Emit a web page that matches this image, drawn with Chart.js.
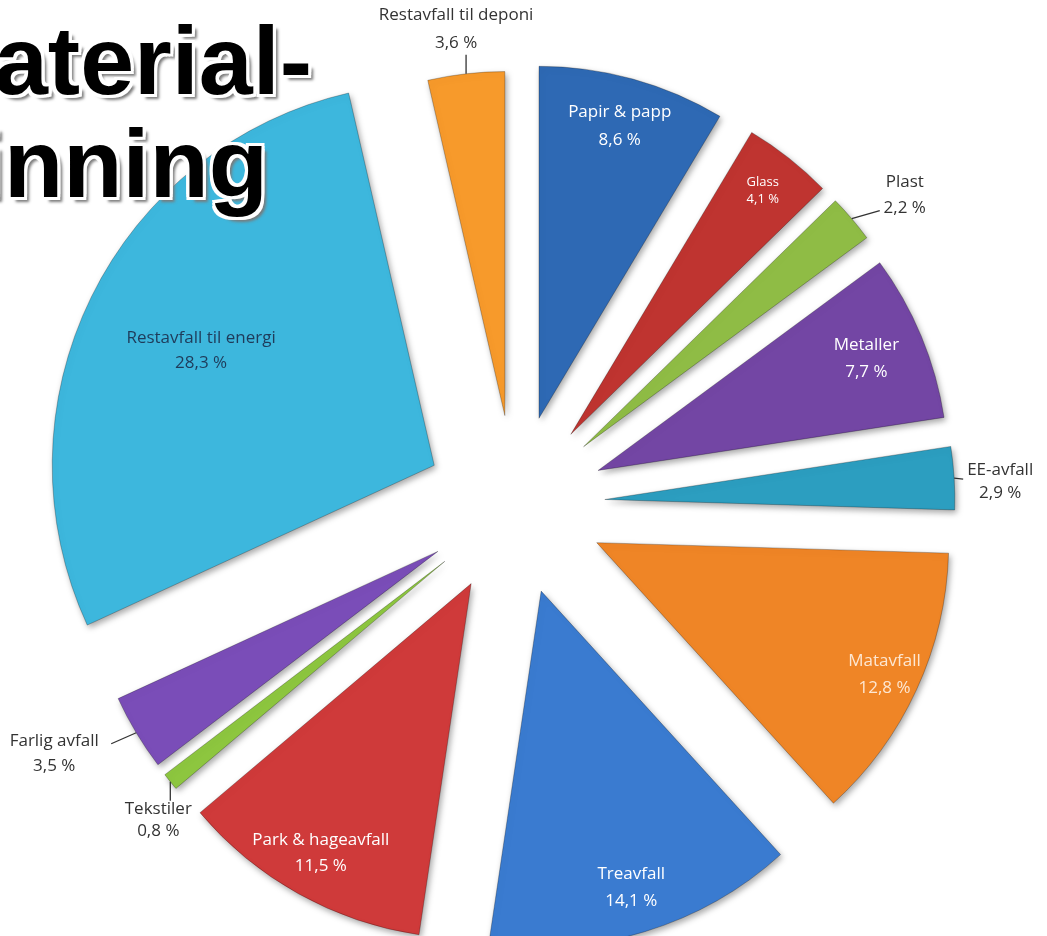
<!DOCTYPE html>
<html>
<head>
<meta charset="utf-8">
<script src="https://cdn.jsdelivr.net/npm/chart.js@4.4.0/dist/chart.umd.min.js"></script>
<style>
    html, body { margin: 0; padding: 0; background: #fff; overflow: hidden; }
    #wrap { position: relative; width: 1047px; height: 936px; overflow: hidden; }
    #wasteChart { position: absolute; left: 0; top: 0; }
    .title {
        position: absolute;
        font-family: "Liberation Sans", Arial, sans-serif;
        font-weight: bold;
        font-size: 97px;
        line-height: 97px;
        white-space: nowrap;
        color: #000;
        text-shadow: -3px -3px 0 #fff, 3px -3px 0 #fff, -3px 3px 0 #fff, 3px 3px 0 #fff,
            0 -3px 0 #fff, 0 3px 0 #fff, -3px 0 0 #fff, 3px 0 0 #fff, 5px 5px 3px #7a7a7a;
    }
</style>
</head>
<body>
<div id="wrap">
    <canvas id="wasteChart" width="1047" height="936"></canvas>
    <div class="title" style="right:735px; top:12px;">Material-</div>
    <div class="title" style="right:779px; top:115px;">gjenvinning</div>
</div>
<script>
const labels = ['Papir & papp', 'Glass', 'Plast', 'Metaller', 'EE-avfall', 'Matavfall', 'Treavfall',
    'Park & hageavfall', 'Tekstiler', 'Farlig avfall', 'Restavfall til energi', 'Restavfall til deponi'];
const shares = [8.6, 4.1, 2.2, 7.7, 2.9, 12.8, 14.1, 11.5, 0.8, 3.5, 28.3, 3.6];

const sliceColors = ['#2E69B4', '#BF3430', '#8FBC45', '#7346A4', '#2C9EC0', '#EF8526', '#3A7BD0',
    '#CF3A3A', '#8DC63F', '#7A4DB8', '#3DB7DD', '#F79A2B'];

// every slice is pulled out this far from the middle
const EXPLODE = 90;
const sliceRadius = [352, 352, 352, 350, 350, 352, 356, 355, 352, 352, 382, 344];

const LABEL_FONT = '"Open Sans", Lato, sans-serif';

// labels drawn on the slice: share of the radius, font size, colour, line gap
const insideLabels = {
    'Papir & papp': { at: 0.86, size: 17, color: '#ffffff', gap: 28 },
    'Glass': { at: 0.88, size: 13, color: '#ffffff', gap: 17 },
    'Metaller': { at: 0.83, size: 17, color: '#ffffff', gap: 27 },
    'Matavfall': { at: 0.90, size: 17, color: '#fde7d2', gap: 27 },
    'Treavfall': { at: 0.87, size: 17, color: '#ffffff', gap: 27 },
    'Park & hageavfall': { at: 0.87, size: 17, color: '#ffffff', gap: 26 },
    'Restavfall til energi': { at: 0.68, size: 17, color: '#1f3b5a', gap: 25 }
};
// labels outside the rim: leader end and text centre, relative to the rim point
const outsideLabels = {
    'Restavfall til deponi': { line: [0, -19], text: [-10, -45], gap: 28 },
    'Plast': { line: [28, -8], text: [53, -24], gap: 26 },
    'EE-avfall': { line: [9, 1], text: [46, 4], gap: 23 },
    'Tekstiler': { line: [0, 19], text: [-12, 38], gap: 22 },
    'Farlig avfall': { line: [-25, 11], text: [-82, 21], gap: 25 }
};

function pctText(v) {
    return v.toFixed(1).replace('.', ',') + ' %';
}

const explode = {
    id: 'explode',
    afterDatasetUpdate(chart, args) {
        args.meta.data.forEach((arc, i) => {
            const mid = (arc.startAngle + arc.endAngle) / 2;
            arc.x += Math.cos(mid) * EXPLODE;
            arc.y += Math.sin(mid) * EXPLODE;
            arc.outerRadius = sliceRadius[i];
        });
    }
};

const sliceShadow = {
    id: 'sliceShadow',
    beforeDatasetsDraw(chart) {
        const c = chart.ctx;
        c.save();
        c.shadowColor = 'rgba(0,0,0,0.35)';
        c.shadowBlur = 6;
        c.shadowOffsetX = 2;
        c.shadowOffsetY = 3;
    },
    afterDatasetsDraw(chart) {
        chart.ctx.restore();
    }
};

const sliceLabels = {
    id: 'sliceLabels',
    afterDatasetsDraw(chart) {
        const c = chart.ctx;
        const meta = chart.getDatasetMeta(0);
        c.save();
        c.textAlign = 'center';
        c.textBaseline = 'middle';
        meta.data.forEach((arc, i) => {
            const name = labels[i];
            const pct = pctText(shares[i]);
            const mid = (arc.startAngle + arc.endAngle) / 2;
            const dx = Math.cos(mid), dy = Math.sin(mid);
            const inside = insideLabels[name];
            if (inside) {
                const r = arc.outerRadius * inside.at;
                const x = arc.x + dx * r, y = arc.y + dy * r;
                c.font = inside.size + 'px ' + LABEL_FONT;
                c.fillStyle = inside.color;
                c.fillText(name, x, y - inside.gap / 2);
                c.fillText(pct, x, y + inside.gap / 2);
                return;
            }
            const out = outsideLabels[name];
            if (!out) return;
            const ox = arc.x + dx * arc.outerRadius, oy = arc.y + dy * arc.outerRadius;
            c.strokeStyle = '#333';
            c.lineWidth = 1.3;
            c.beginPath();
            c.moveTo(ox, oy);
            c.lineTo(ox + out.line[0], oy + out.line[1]);
            c.stroke();
            c.font = '17px ' + LABEL_FONT;
            c.fillStyle = '#333333';
            const tx = ox + out.text[0], ty = oy + out.text[1];
            c.fillText(name, tx, ty - out.gap / 2);
            c.fillText(pct, tx, ty + out.gap / 2);
        });
        c.restore();
    }
};

const ctx = document.getElementById('wasteChart');
new Chart(ctx, {
    type: 'pie',
    data: {
        labels: labels,
        datasets: [{
            data: shares,
            backgroundColor: sliceColors,
            borderColor: 'rgba(0,0,0,0.25)',
            borderWidth: 1
        }]
    },
    options: {
        responsive: false,
        animation: false,
        events: [],
        layout: {
            padding: { top: 74, right: 17, left: 0, bottom: 0 }
        },
        plugins: {
            legend: { display: false },
            tooltip: { enabled: false }
        }
    },
    plugins: [explode, sliceShadow, sliceLabels]
});
</script>
</body>
</html>
